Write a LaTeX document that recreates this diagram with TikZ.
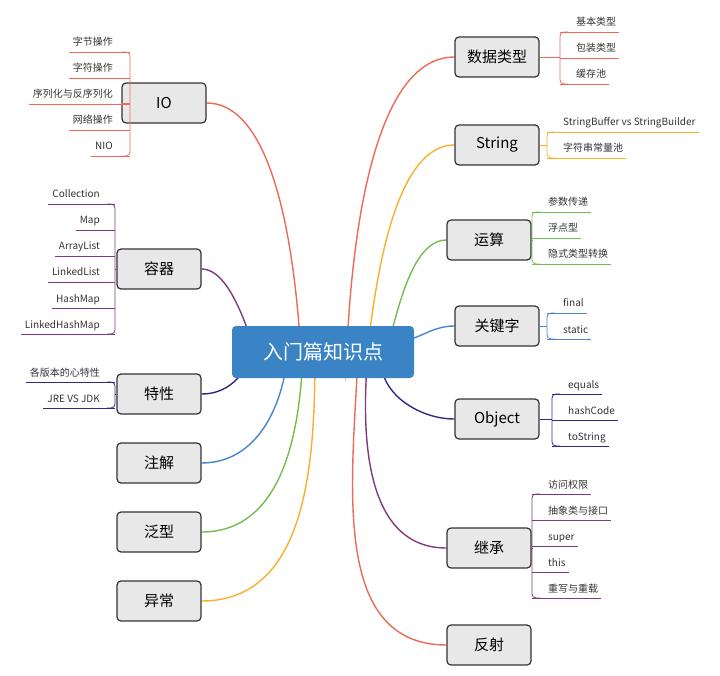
\documentclass[tikz,border=0pt]{standalone}
\usepackage{fontspec}
\setmainfont{Noto Sans CJK SC}
\usetikzlibrary{backgrounds}
\definecolor{cRed}{HTML}{EC6A57}
\definecolor{cOra}{HTML}{F7B02E}
\definecolor{cGre}{HTML}{73BD4E}
\definecolor{cBlu}{HTML}{4A84CB}
\definecolor{cNav}{HTML}{2E2A86}
\definecolor{cPur}{HTML}{7D3A7E}
\definecolor{cMain}{HTML}{3A84C6}
\tikzset{
 topic/.style={draw=black!80,fill=black!9,line width=1.2pt,rounded corners=4pt,minimum width=84pt,minimum height=40pt,font=\fontsize{15}{15}\selectfont,inner sep=4pt},
 leaf/.style={font=\fontsize{10}{10}\selectfont,text=black!80,inner sep=0pt},
 conn/.style={line width=1.4pt},
 brk/.style={line width=0.8pt,rounded corners=4pt},
}
\newcommand\myRgroup[5]{%
 \foreach \t [count=\i] in {#5}{%
  \pgfmathsetmacro\yy{#4+26*(\i-1)}
  \node[leaf,anchor=base west] (#1-\i) at (#3+16,\yy-6) {\t};
  \draw[#2,line width=0.8pt] (#3,\yy) -- ([xshift=3pt]#1-\i.east |- 0,\yy);
  \xdef\lastY{\yy}
 }
 \draw[#2,brk] (#3+8,#4) -- (#3,#4) -- (#3,\lastY) -- (#3+8,\lastY);
 \draw[#2,line width=0.8pt] (#1.east) -- (#3,0 |- #1.east);
}
\newcommand\myLgroup[6]{%
 \foreach \t [count=\i] in {#6}{%
  \pgfmathsetmacro\yy{#4+26*(\i-1)}
  \node[leaf,anchor=base east] (#1-\i) at (#5,\yy-6) {\t};
  \draw[#2,line width=0.8pt] (#3,\yy) -- ([xshift=-4pt]#1-\i.west |- 0,\yy);
  \xdef\lastY{\yy}
 }
 \draw[#2,brk] (#3-8,#4) -- (#3,#4) -- (#3,\lastY) -- (#3-8,\lastY);
 \draw[#2,line width=0.8pt] (#1.west) -- (#3,0 |- #1.west);
}
\begin{document}
\begin{tikzpicture}[x=1pt,y=-1pt]
\useasboundingbox (0,0) rectangle (720,676);
\node[fill=cMain,rounded corners=4pt,minimum width=182pt,minimum height=52pt,text=white,font=\fontsize{20}{20}\selectfont] (c) at (323,352) {入门篇知识点};
% right topics
\node[topic] (sj) at (497,57) {数据类型};
\node[topic] (st) at (497,145) {String};
\node[topic] (ys) at (489,240) {运算};
\node[topic] (gj) at (497,326) {关键字};
\node[topic] (ob) at (497,419) {Object};
\node[topic] (jc) at (489,548) {继承};
\node[topic] (fs) at (489,645) {反射};
% left topics
\node[topic] (io) at (164,103) {IO};
\node[topic] (rq) at (159,269) {容器};
\node[topic] (tx) at (159,394) {特性};
\node[topic] (zj) at (159,463) {注解};
\node[topic] (fx) at (159,532) {泛型};
\node[topic] (yc) at (159,601) {异常};
\begin{scope}[on background layer]
\coordinate (r1) at ([xshift=22pt]c.center);
\coordinate (r2) at ([xshift=38pt]c.center);
\coordinate (r3) at ([xshift=52pt]c.center);
\coordinate (r4) at ([xshift=70pt,yshift=10pt]c.center);
\coordinate (r5) at ([xshift=60pt]c.center);
\coordinate (r6) at ([xshift=45pt]c.center);
\coordinate (r7) at ([xshift=35pt]c.center);
\coordinate (l1) at ([xshift=-20pt]c.center);
\coordinate (l2) at ([xshift=-60pt]c.center);
\coordinate (l3) at ([xshift=-70pt]c.center);
\coordinate (l4) at ([xshift=-35pt]c.center);
\coordinate (l5) at ([xshift=-20pt]c.center);
\coordinate (l6) at ([xshift=-8pt]c.center);
\draw[conn,cRed] (r1) to[out=-88,in=180] (sj.west);
\draw[conn,cOra] (r2) to[out=-85,in=180] (st.west);
\draw[conn,cGre] (r3) to[out=-75,in=180] (ys.west);
\draw[conn,cBlu] (r4) to[out=0,in=180] (gj.west);
\draw[conn,cNav] (r5) to[out=-105,in=180] (ob.west);
\draw[conn,cPur] (r6) to[out=-95,in=180] (jc.west);
\draw[conn,cRed] (r7) to[out=-92,in=180] (fs.west);
\draw[conn,cRed] (l1) to[out=-92,in=0] (io.east);
\draw[conn,cPur] (l2) to[out=-95,in=0] (rq.east);
\draw[conn,cNav] (l3) to[out=-110,in=0] (tx.east);
\draw[conn,cBlu] (l4) to[out=-95,in=0] (zj.east);
\draw[conn,cGre] (l5) to[out=-92,in=0] (fx.east);
\draw[conn,cOra] (l6) to[out=-90,in=0] (yc.east);
\end{scope}
\myRgroup{sj}{cRed}{560}{32}{基本类型,包装类型,缓存池}
\myRgroup{st}{cOra}{547}{132}{StringBuffer vs StringBuilder,字符串常量池}
\myRgroup{ys}{cGre}{532}{212}{参数传递,浮点型,隐式类型转换}
\myRgroup{gj}{cBlu}{547}{313}{final,static}
\myRgroup{ob}{cNav}{552}{394}{equals,hashCode,toString}
\myRgroup{jc}{cPur}{532}{494}{访问权限,抽象类与接口,super,this,重写与重载}
\myLgroup{io}{cRed}{130}{52}{113}{字节操作,字符操作,序列化与反序列化,网络操作,NIO}
\myLgroup{rq}{cPur}{115}{204}{100}{Collection,Map,ArrayList,LinkedList,HashMap,LinkedHashMap}
\myLgroup{tx}{cNav}{115}{382}{100}{各版本的心特性,JRE VS JDK}
\end{tikzpicture}
\end{document}
